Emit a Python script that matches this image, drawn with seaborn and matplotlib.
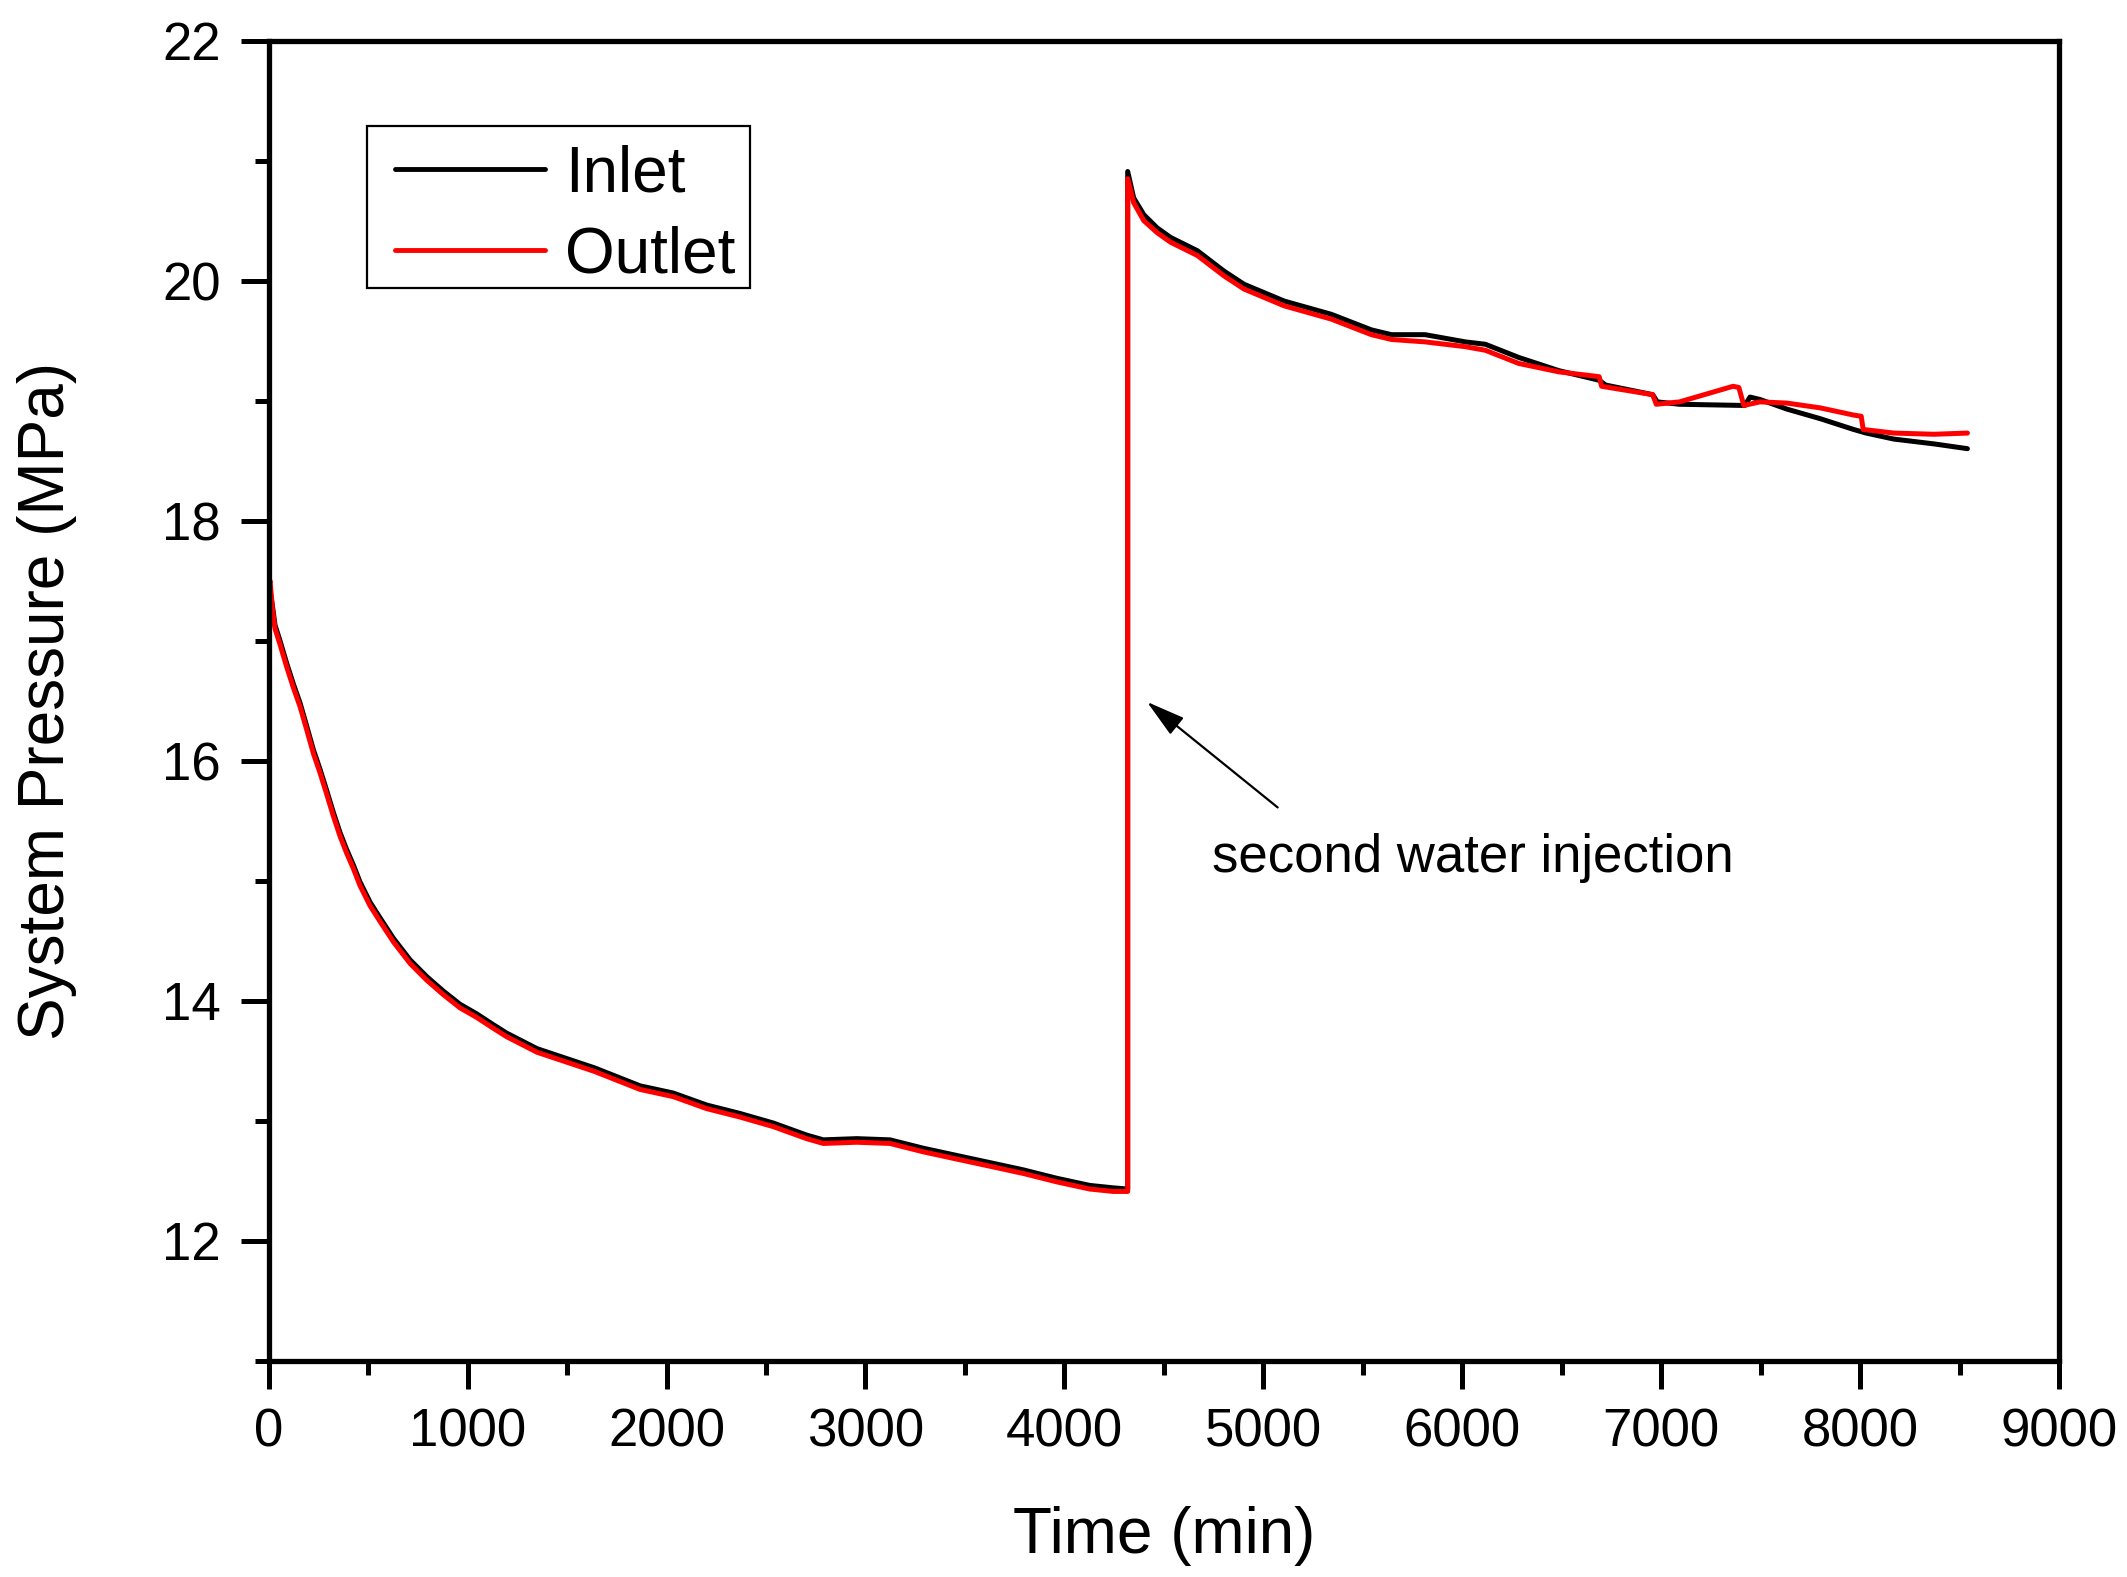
import numpy as np
import pandas as pd
import matplotlib
matplotlib.use("Agg")
import matplotlib.pyplot as plt
import seaborn as sns
from matplotlib.patches import Rectangle
from matplotlib.ticker import MultipleLocator

# time (min) and pressure (MPa)
# first injection: both sensors share the time stamps
time_phase1 = [0, 7, 20, 32, 57, 91, 124, 158, 191, 225, 258, 292, 325, 359, 392, 426,
               459, 510, 560, 627, 711, 795, 878, 962, 1046, 1129, 1196, 1349, 1638, 1867,
               2034, 2202, 2369, 2537, 2704, 2788, 2956, 3123, 3291, 3458, 3626, 3793,
               3961, 4128, 4245, 4318]
inlet_phase1 = [17.38, 17.42, 17.28, 17.13, 17.00, 16.81, 16.64, 16.48, 16.29, 16.09,
                15.93, 15.75, 15.57, 15.40, 15.26, 15.13, 14.99, 14.82, 14.69, 14.52,
                14.34, 14.20, 14.08, 13.97, 13.89, 13.80, 13.73, 13.60, 13.44, 13.29,
                13.23, 13.13, 13.06, 12.98, 12.88, 12.84, 12.85, 12.84, 12.77, 12.71,
                12.65, 12.59, 12.52, 12.46, 12.44, 12.43]
outlet_phase1 = [17.45, 17.50, 17.25, 17.10, 16.97, 16.78, 16.61, 16.45, 16.26, 16.06,
                 15.90, 15.72, 15.54, 15.37, 15.23, 15.10, 14.96, 14.79, 14.66, 14.49,
                 14.31, 14.17, 14.05, 13.94, 13.86, 13.77, 13.70, 13.57, 13.41, 13.26,
                 13.20, 13.10, 13.03, 12.95, 12.85, 12.81, 12.82, 12.81, 12.74, 12.68,
                 12.62, 12.56, 12.49, 12.43, 12.41, 12.41]

# second water injection
time_inlet_phase2 = [4318, 4348, 4399, 4466, 4534, 4668, 4802, 4903, 5105, 5341, 5543,
                     5644, 5813, 6015, 6116, 6284, 6486, 6688, 6721, 6957, 6980, 7092,
                     7420, 7446, 7496, 7631, 7799, 7967, 8030, 8169, 8370, 8539]
inlet_phase2 = [20.91, 20.69, 20.55, 20.44, 20.36, 20.25, 20.08, 19.97, 19.83, 19.72,
                19.59, 19.55, 19.55, 19.49, 19.47, 19.36, 19.25, 19.17, 19.13, 19.05,
                18.99, 18.97, 18.96, 19.03, 19.01, 18.93, 18.85, 18.76, 18.73, 18.68,
                18.64, 18.60]
time_outlet_phase2 = [4318, 4348, 4399, 4466, 4534, 4668, 4802, 4903, 5105, 5341, 5543,
                      5644, 5813, 6015, 6116, 6284, 6486, 6688, 6700, 6957, 6975, 7092,
                      7361, 7390, 7415, 7496, 7631, 7799, 7967, 8005, 8015, 8169, 8370,
                      8539]
outlet_phase2 = [20.85, 20.65, 20.50, 20.40, 20.32, 20.21, 20.04, 19.93, 19.79, 19.68,
                 19.55, 19.51, 19.49, 19.45, 19.42, 19.31, 19.24, 19.20, 19.12, 19.05,
                 18.97, 18.99, 19.12, 19.11, 18.96, 18.99, 18.98, 18.94, 18.88, 18.87,
                 18.76, 18.73, 18.72, 18.73]

series_names = ["Inlet", "Outlet"]
series_colors = ["black", "#ff0000"]

df = pd.concat([
    pd.DataFrame({"time": time_phase1 + time_inlet_phase2,
                  "pressure": inlet_phase1 + inlet_phase2, "series": "Inlet"}),
    pd.DataFrame({"time": time_phase1 + time_outlet_phase2,
                  "pressure": outlet_phase1 + outlet_phase2, "series": "Outlet"}),
], ignore_index=True)

sns.set_style("ticks")
plt.rcParams["font.family"] = ["Liberation Sans", "DejaVu Sans"]
plt.rcParams["text.color"] = "black"
plt.rcParams["axes.labelcolor"] = "black"
plt.rcParams["xtick.color"] = "black"
plt.rcParams["ytick.color"] = "black"

fig = plt.figure(figsize=(21.27, 15.77), dpi=100)
ax = fig.add_axes([0.1263, 0.1372, 0.9681 - 0.1263, 0.9742 - 0.1372])

for name, color in zip(series_names, series_colors):
    sns.lineplot(data=df[df["series"] == name], x="time", y="pressure",
                 estimator=None, sort=False, color=color, lw=3.6, ax=ax,
                 legend=False)

ax.set_xlim(0, 9000)
ax.set_ylim(11, 22)
ax.xaxis.set_major_locator(MultipleLocator(1000))
ax.xaxis.set_minor_locator(MultipleLocator(500))
ax.yaxis.set_minor_locator(MultipleLocator(1))
ax.set_yticks([12, 14, 16, 18, 20, 22])

for s in ax.spines.values():
    s.set_linewidth(3.8)
    s.set_color("black")
ax.tick_params(which="major", direction="out", length=20.5, width=3.6, labelsize=38,
               color="black", labelcolor="black")
ax.tick_params(which="minor", direction="out", length=10, width=3.6, color="black")
ax.tick_params(axis="x", which="major", pad=13)
ax.tick_params(axis="y", which="major", pad=14)
ax.tick_params(top=False, right=False, which="both")

ax.set_xlabel("Time (min)", fontsize=46, color="black")
ax.set_ylabel("System Pressure (MPa)", fontsize=46, color="black")
ax.xaxis.set_label_coords(0.5, -0.110)
ax.yaxis.set_label_coords(-0.107, 0.5)

# annotation
ax.annotate("", xy=(4415, 16.49), xytext=(5072, 15.61),
            arrowprops=dict(arrowstyle="-|>,head_length=0.8,head_width=0.22",
                            mutation_scale=30, color="black", lw=1.6,
                            shrinkA=0, shrinkB=0))
ax.text(4740, 15.075, "second water injection", fontsize=38, va="baseline", ha="left",
        color="black")

# legend
ax.add_patch(Rectangle((0.0551, 0.8129), 0.2137, 0.1227, transform=ax.transAxes,
                       fill=False, edgecolor="black", lw=1.6, zorder=5))
handles = [plt.Line2D([], [], color=c, lw=3.5) for c in series_colors]
leg = ax.legend(handles, series_names, loc="upper left", bbox_to_anchor=(0.0706, 0.9217),
                frameon=False, fontsize=46, borderpad=0, borderaxespad=0,
                handlelength=2.35, handletextpad=0.31, labelspacing=0.33)
for t in leg.get_texts():
    t.set_color("black")

fig.savefig("out.png", dpi=100, facecolor="white")
